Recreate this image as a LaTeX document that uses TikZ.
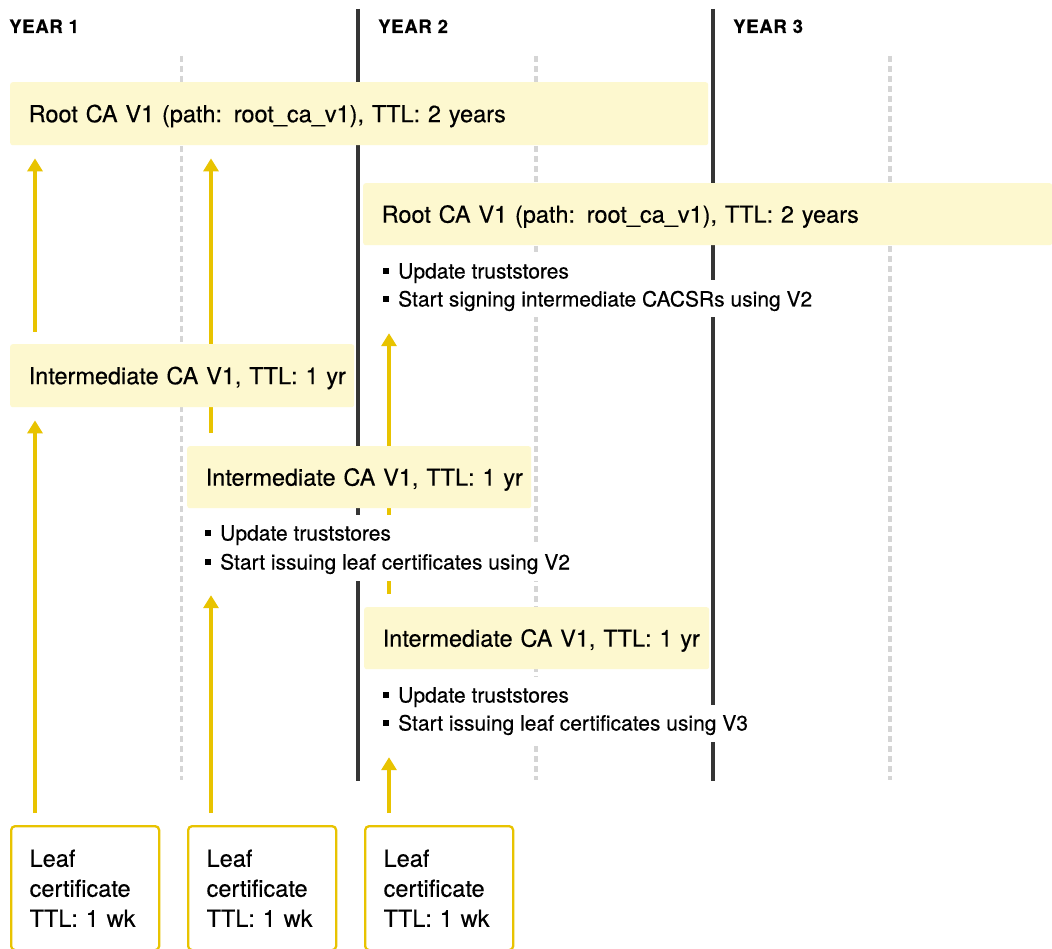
\documentclass[tikz,border=0pt]{standalone}
\usepackage{fontspec}
\setmainfont{TeX Gyre Heros}[FakeBold=0.35]
\newfontfamily\headfont{TeX Gyre Heros}[UprightFont=*-Bold, FakeBold=0.3, LetterSpace=4]
\usetikzlibrary{arrows.meta}

\definecolor{boxfill}{HTML}{FDF8CF}
\definecolor{goldline}{HTML}{E8C300}
\definecolor{darkrule}{HTML}{353535}
\definecolor{lightrule}{HTML}{D5D5D5}

\pgfdeclarelayer{grid}
\pgfdeclarelayer{links}
\pgfsetlayers{grid,links,main}

\newcommand{\sqbullet}{\raisebox{4.6pt}{\rule{5.5pt}{5.5pt}}\hspace{9.5pt}}

\tikzset{
  yearlabel/.style={anchor=base west, inner sep=0pt, font=\fontsize{18.5}{19}\headfont},
  yearrule/.style={draw=darkrule, line width=3.8pt},
  quarterrule/.style={draw=lightrule, line width=3.2pt, dash pattern=on 6pt off 4pt},
  cabox/.style={anchor=north west, fill=boxfill, rounded corners=2.5pt, inner xsep=18.5pt,
    inner ysep=0pt, align=left, text height=17pt, text depth=0pt,
    font=\fontsize{23.5}{28}\selectfont},
  noteline/.style={anchor=west, fill=white, inner xsep=5pt, inner ysep=0pt,
    minimum height=37pt, text height=15pt, text depth=0pt,
    font=\fontsize{21}{24}\selectfont},
  leafbox/.style={anchor=north west, draw=goldline, line width=2.3pt, fill=white,
    rounded corners=4pt, minimum width=148pt, minimum height=124pt,
    text width=111pt, inner xsep=18.5pt, align=left,
    font=\fontsize{23.5}{30}\selectfont},
  chain/.style={draw=goldline, line width=3.6pt, -{Triangle[width=15pt,length=13pt]},
    shorten <=12pt},
}

\begin{document}
\begin{tikzpicture}[x=1pt, y=-1pt]
\useasboundingbox (0,0) rectangle (1052,949);
\clip (0,0) rectangle (1052,949);

\begin{pgfonlayer}{grid}
  \fill[white] (0,0) rectangle (1052,949);
  % year boundaries and half-year markers
  \foreach \xx in {358,713}
    \draw[yearrule] (\xx,9) -- (\xx,781);
  \foreach \xx in {181.5,536,890}
    \draw[quarterrule] (\xx,56) -- (\xx,780);
\end{pgfonlayer}

% year headings
\node[yearlabel] (y1) at (9,33) {YEAR 1};
\node[yearlabel] (y2) at (378,33) {YEAR 2};
\node[yearlabel] (y3) at (733,33) {YEAR 3};

% x positions of the chains of trust
\coordinate (ca) at (35,0);
\coordinate (cb) at (211,0);
\coordinate (cc) at (389,0);

% certificate authorities
\node[cabox, text width=661pt, minimum height=63pt] (root1) at (10,82)
  {\mbox{Root CA V1 (path: root\_ca\_v1), TTL: 2 years}};
\node[cabox, text width=652pt, minimum height=62pt] (root2) at (363,183)
  {\mbox{Root CA V1 (path: root\_ca\_v1), TTL: 2 years}};
\node[cabox, text width=307pt, minimum height=63pt] (int1) at (10,344)
  {\mbox{Intermediate CA V1, TTL: 1 yr}};
\node[cabox, text width=307pt, minimum height=62pt] (int2) at (187,446)
  {\mbox{Intermediate CA V1, TTL: 1 yr}};
\node[cabox, text width=308pt, minimum height=62pt] (int3) at (364,607)
  {\mbox{Intermediate CA V1, TTL: 1 yr}};

% rotation notes (second lines first, so no descender is covered)
\node[noteline] (n1b) at (378,299) {\sqbullet Start signing intermediate CACSRs using V2};
\node[noteline] (n1a) at (378,271) {\sqbullet Update truststores};
\node[noteline] (n2b) at (200,562) {\sqbullet Start issuing leaf certificates using V2};
\node[noteline] (n2a) at (200,533) {\sqbullet Update truststores};
\node[noteline] (n3b) at (378,723) {\sqbullet Start issuing leaf certificates using V3};
\node[noteline] (n3a) at (378,695) {\sqbullet Update truststores};

% leaf certificates
\node[leafbox] (leaf1) at (10,825) {Leaf\\certificate\\TTL: 1 wk};
\node[leafbox] (leaf2) at (187,825) {Leaf\\certificate\\TTL: 1 wk};
\node[leafbox] (leaf3) at (364,825) {Leaf\\certificate\\TTL: 1 wk};

% chains of trust, drawn beneath the boxes
\begin{pgfonlayer}{links}
  \draw[chain, shorten >=13pt] (int1.north -| ca) -- (root1.south -| ca);
  \draw[chain, shorten >=13pt, shorten <=13pt] (int2.north -| cb) -- (root1.south -| cb);
  \draw[chain, shorten >=13pt] (leaf1.north -| ca) -- (int1.south -| ca);
  \draw[chain, shorten >=14.5pt] (leaf2.north -| cb) -- (n2b.south -| cb);
  \draw[chain, shorten >=15.5pt] (leaf3.north -| cc) -- (n3b.south -| cc);
  \draw[chain, shorten >=15.5pt, shorten <=13pt] (int3.north -| cc) -- (n1b.south -| cc);
\end{pgfonlayer}
\end{tikzpicture}
\end{document}
